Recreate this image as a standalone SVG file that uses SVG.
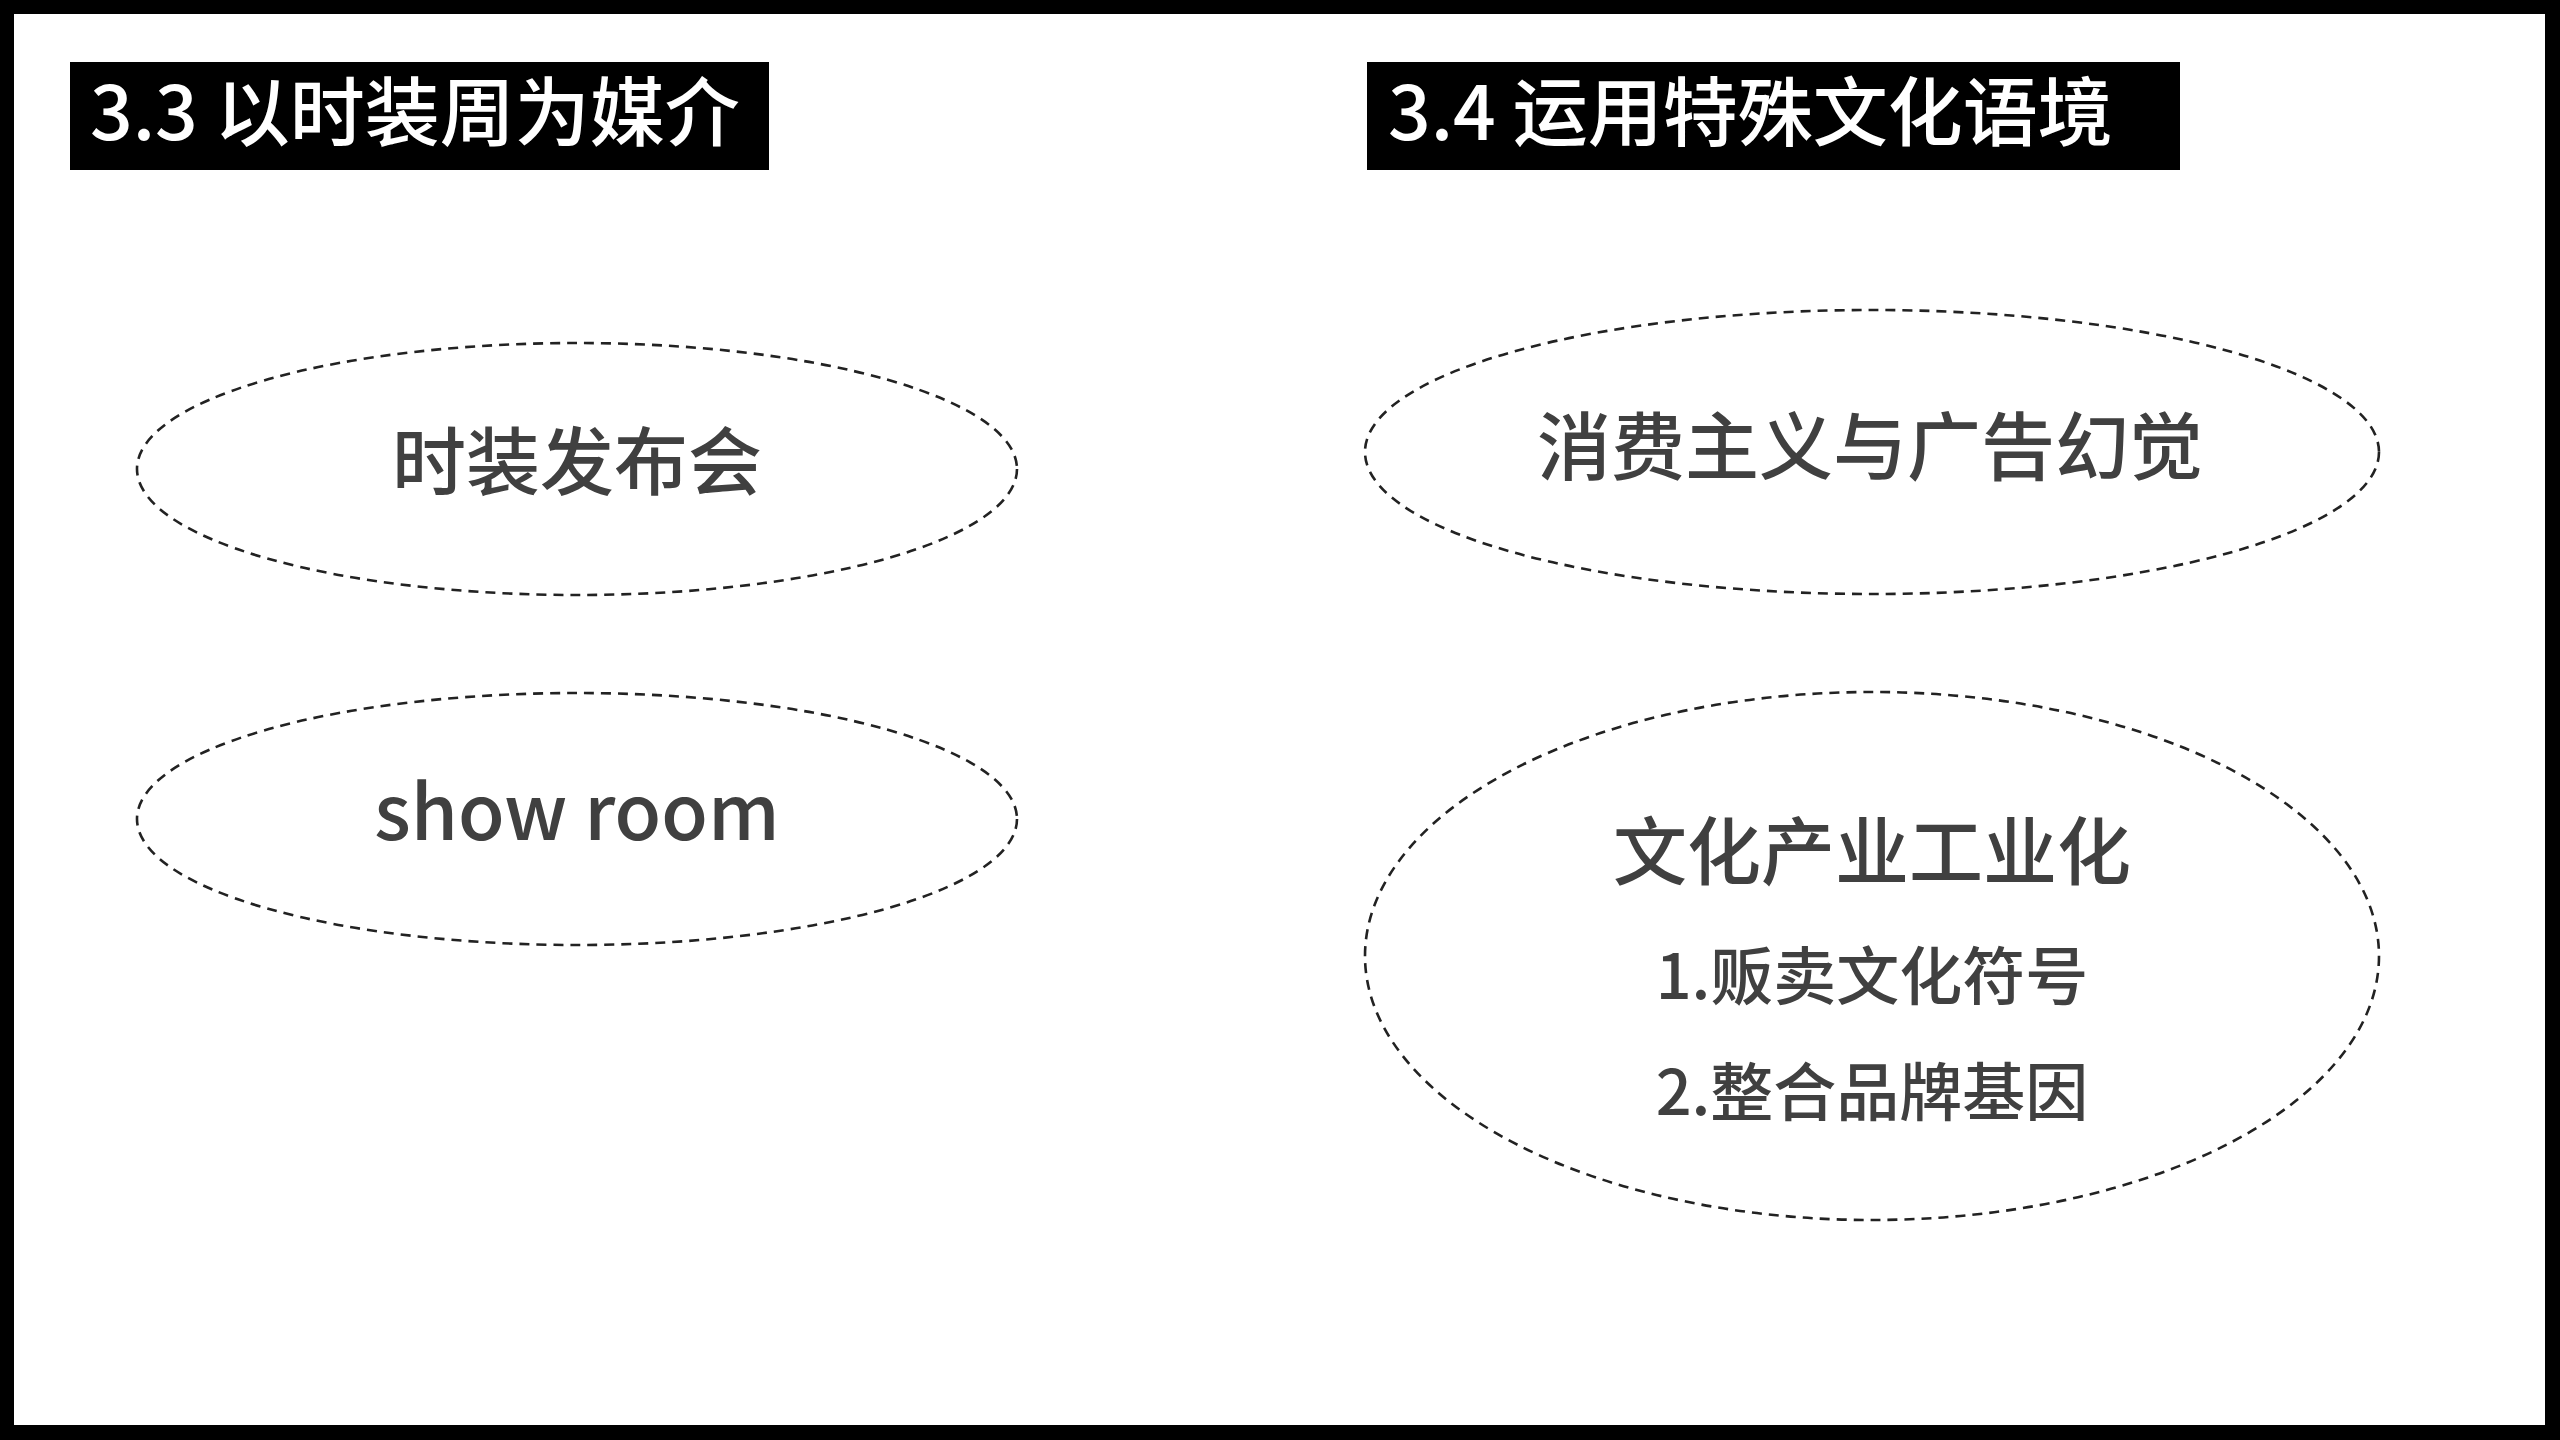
<svg xmlns="http://www.w3.org/2000/svg" width="2560" height="1440" viewBox="0 0 2560 1440">
<style>
.hdr{fill:#000}
.htxt{fill:#fff;font-family:"Noto Sans CJK SC","Noto Sans",sans-serif;font-size:75px;font-weight:500}
.oval{fill:none;stroke:#222;stroke-width:2.6;stroke-dasharray:10 7}
.lbl{fill:#404040;font-family:"Noto Sans CJK SC","Noto Sans",sans-serif;text-anchor:middle;font-weight:500}
</style>
<rect x="0" y="0" width="2560" height="1440" fill="#000"/>
<rect x="14" y="14" width="2531" height="1411" fill="#fff"/>
<g id="header-33">
<rect class="hdr" x="70" y="62" width="699" height="108"/>
<text class="htxt" x="90" y="140">3.3 以时装周为媒介</text>
</g>
<g id="header-34">
<rect class="hdr" x="1367" y="62" width="813" height="108"/>
<text class="htxt" x="1388" y="140">3.4 运用特殊文化语境</text>
</g>
<g id="node-fashion-show">
<ellipse class="oval" cx="577" cy="469" rx="440" ry="126"/>
<text class="lbl" x="577" y="489" font-size="74">时装发布会</text>
</g>
<g id="node-showroom">
<ellipse class="oval" cx="577" cy="819" rx="440" ry="126"/>
<text class="lbl" x="577" y="840" font-size="76">show room</text>
</g>
<g id="node-consumerism">
<ellipse class="oval" cx="1872" cy="452" rx="507" ry="142"/>
<text class="lbl" x="1870" y="474" font-size="74">消费主义与广告幻觉</text>
</g>
<g id="node-culture-industry">
<ellipse class="oval" cx="1872" cy="956" rx="507" ry="264"/>
<text class="lbl" x="1872" y="879" font-size="74">文化产业工业化</text>
<text class="lbl" x="1872" y="999" font-size="63">1.贩卖文化符号</text>
<text class="lbl" x="1872" y="1115" font-size="63">2.整合品牌基因</text>
</g>
<g id="connectors"/>
</svg>
